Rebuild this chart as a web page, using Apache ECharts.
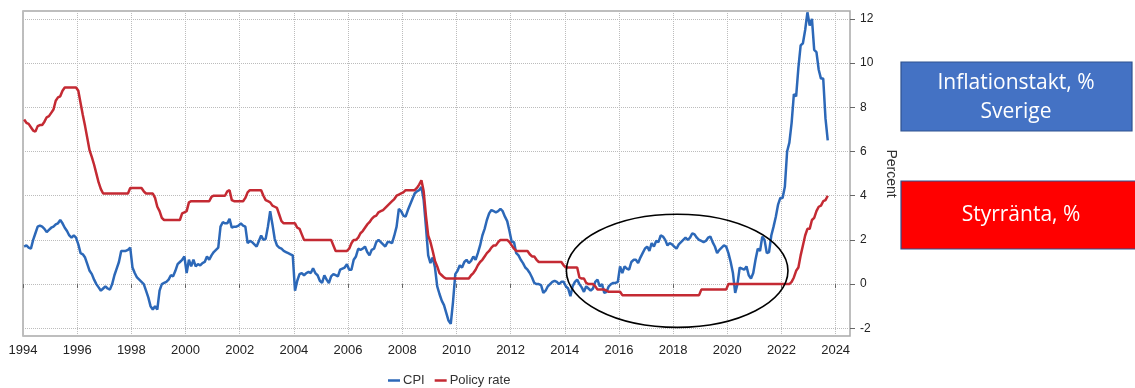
<!DOCTYPE html>
<html><head><meta charset="utf-8">
<script src="https://cdn.jsdelivr.net/npm/echarts@6/dist/echarts.min.js"></script>
<style>html,body{margin:0;padding:0;background:#fff}#c{width:1135px;height:388px}</style>
</head><body><div id="c"></div>
<script>
// ---- data (monthly, starting January 1994) ----
const startYear = 1994;
const seriesNames = ['CPI', 'Policy rate'];
const xTicks = [1994,1996,1998,2000,2002,2004,2006,2008,2010,2012,2014,2016,2018,2020,2022,2024];
const yTicks = [-2,0,2,4,6,8,10,12];

const cpi1994to2003 = [
  1.7,1.75,1.65,1.6,2.0,2.3,2.6,2.65,2.6,2.5,2.35,2.45,
  2.55,2.6,2.7,2.75,2.9,2.75,2.55,2.4,2.2,2.1,2.2,2.1,
  1.8,1.4,1.35,1.2,0.9,0.6,0.45,0.2,0.0,-0.15,-0.3,-0.2,
  -0.1,-0.2,-0.25,0.0,0.4,0.7,1.0,1.5,1.5,1.5,1.55,1.65,
  0.75,0.5,0.3,0.2,0.1,0.0,-0.3,-0.6,-1.0,-1.15,-1.0,-1.15,
  -0.3,0.0,0.05,0.1,0.2,0.4,0.35,0.6,0.9,1.0,1.1,1.25,
  0.5,1.1,0.8,1.1,0.8,0.9,0.85,0.95,1.0,1.25,1.1,1.3,
  1.45,1.55,1.65,2.6,2.8,2.75,2.75,2.95,2.55,2.6,2.6,2.65,
  2.75,2.65,2.6,1.85,1.95,1.9,1.8,1.7,1.95,2.2,2.0,2.05,
  2.6,3.3,2.7,2.05,1.75,1.65,1.6,1.5,1.45,1.4,1.35,1.3
];
const cpi2004to2013 = [
  -0.3,0.15,0.45,0.5,0.4,0.5,0.55,0.5,0.72,0.5,0.4,0.15,
  0.05,0.4,0.2,0.05,0.35,0.45,0.4,0.35,0.65,0.7,0.75,0.9,
  0.65,0.65,1.1,1.25,1.6,1.55,1.6,1.7,1.45,1.3,1.55,1.6,
  1.9,2.0,1.9,1.8,1.7,1.9,1.9,1.85,2.2,2.6,3.4,3.3,
  3.1,3.05,3.35,3.6,3.85,4.1,4.2,4.25,4.4,3.8,2.6,1.3,
  0.95,1.2,0.75,-0.1,-0.45,-0.75,-0.95,-1.3,-1.65,-1.8,-0.8,0.45,
  0.6,0.85,0.75,1.0,1.1,0.95,1.05,1.25,1.1,1.4,1.75,2.2,
  2.5,2.9,3.2,3.35,3.3,3.25,3.3,3.4,3.3,3.05,2.85,2.4,
  1.9,1.9,1.4,1.3,1.1,0.95,0.75,0.65,0.5,0.3,0.05,0.0,
  0.0,-0.05,-0.4,-0.3,-0.1,0.0,0.1,0.15,0.1,0.0,0.1,0.1
];
const cpi2014to2023 = [
  -0.1,-0.2,-0.55,-0.1,0.1,0.2,0.0,-0.15,-0.35,-0.1,-0.2,-0.3,
  -0.2,0.1,0.2,-0.1,0.0,-0.4,-0.35,-0.1,0.0,0.05,0.05,0.1,
  0.8,0.5,0.8,0.7,0.65,1.0,1.1,1.1,0.95,1.2,1.4,1.6,
  1.7,1.5,1.85,1.7,1.95,1.9,2.2,2.15,2.0,1.75,1.85,1.8,
  1.7,1.6,1.8,1.9,2.0,2.1,2.0,2.1,2.3,2.25,2.1,2.0,
  1.95,1.9,1.95,2.1,2.15,1.9,1.7,1.4,1.55,1.65,1.75,1.7,
  1.4,1.0,0.5,-0.4,0.0,0.75,0.7,0.65,0.8,0.4,0.25,0.5,
  1.1,1.6,1.5,2.15,2.0,1.4,1.45,2.2,2.6,3.05,3.6,3.9,
  3.9,4.4,6.0,6.4,7.3,8.6,8.5,9.8,10.8,10.9,11.5,12.3,
  11.7,12.0,10.6,10.5,9.7,9.3,9.3,7.5,6.5
];

const rate1994to2003 = [
  7.45,7.3,7.25,7.1,6.95,6.9,7.15,7.2,7.2,7.35,7.55,7.6,
  7.75,7.9,8.3,8.45,8.5,8.75,8.9,8.9,8.9,8.9,8.9,8.9,
  8.75,8.2,7.65,7.15,6.6,6.05,5.75,5.4,5.0,4.6,4.3,4.1,
  4.1,4.1,4.1,4.1,4.1,4.1,4.1,4.1,4.1,4.1,4.1,4.35,
  4.35,4.35,4.35,4.35,4.35,4.2,4.1,4.1,4.1,4.1,3.9,3.5,
  3.3,3.0,2.9,2.9,2.9,2.9,2.9,2.9,2.9,2.9,3.2,3.25,
  3.3,3.7,3.75,3.75,3.75,3.75,3.75,3.75,3.75,3.75,3.75,3.95,
  4.0,4.0,4.0,4.0,4.0,4.0,4.2,4.25,3.8,3.75,3.75,3.75,
  3.75,3.75,3.9,4.15,4.25,4.25,4.25,4.25,4.25,4.25,4.0,3.8,
  3.75,3.7,3.55,3.5,3.45,3.15,2.85,2.75,2.75,2.75,2.75,2.75
];
const rate2004to2013 = [
  2.75,2.55,2.5,2.25,2.0,2.0,2.0,2.0,2.0,2.0,2.0,2.0,
  2.0,2.0,2.0,2.0,2.0,1.75,1.5,1.5,1.5,1.5,1.5,1.5,
  1.6,1.85,2.0,2.0,2.1,2.3,2.4,2.55,2.7,2.8,2.95,3.05,
  3.1,3.25,3.3,3.35,3.45,3.55,3.65,3.75,3.85,4.0,4.05,4.1,
  4.15,4.25,4.25,4.25,4.25,4.25,4.35,4.5,4.7,4.2,3.1,2.2,
  1.9,1.5,1.05,0.8,0.5,0.4,0.3,0.25,0.25,0.25,0.25,0.25,
  0.25,0.25,0.25,0.25,0.25,0.25,0.4,0.5,0.65,0.85,1.0,1.1,
  1.25,1.4,1.5,1.65,1.75,1.75,1.9,2.0,2.0,2.0,2.0,1.9,
  1.75,1.6,1.5,1.5,1.5,1.5,1.5,1.5,1.35,1.25,1.25,1.1,
  1.0,1.0,1.0,1.0,1.0,1.0,1.0,1.0,1.0,1.0,1.0,0.85
];
const rate2014to2023 = [
  0.75,0.75,0.75,0.75,0.75,0.75,0.3,0.25,0.25,0.05,0.0,0.0,
  0.0,-0.1,-0.25,-0.25,-0.25,-0.25,-0.3,-0.35,-0.35,-0.35,-0.35,-0.35,
  -0.35,-0.5,-0.5,-0.5,-0.5,-0.5,-0.5,-0.5,-0.5,-0.5,-0.5,-0.5,
  -0.5,-0.5,-0.5,-0.5,-0.5,-0.5,-0.5,-0.5,-0.5,-0.5,-0.5,-0.5,
  -0.5,-0.5,-0.5,-0.5,-0.5,-0.5,-0.5,-0.5,-0.5,-0.5,-0.5,-0.5,
  -0.25,-0.25,-0.25,-0.25,-0.25,-0.25,-0.25,-0.25,-0.25,-0.25,-0.25,-0.25,
  0,0,0,0,0,0,0,0,0,0,0,0,
  0,0,0,0,0,0,0,0,0,0,0,0,
  0,0,0,0,0.1,0.3,0.6,0.75,1.3,1.75,2.2,2.5,
  2.5,2.9,3.0,3.3,3.5,3.55,3.75,3.8,4.0
];

// annotation ellipse bounds, in data units (years / percent)
const ellipseYears = [2014.06, 2022.24];
const ellipseValues = [-1.96, 3.16];

const cpiValues = cpi1994to2003.concat(cpi2004to2013, cpi2014to2023);
const rateValues = rate1994to2003.concat(rate2004to2013, rate2014to2023);
const toPoints = vals => vals.map((v, i) => [startYear + (i + 0.5) / 12, v]);

const chart = echarts.init(document.getElementById('c'), null, {renderer: 'canvas'});
const axisFont = 'Liberation Sans, Arial, sans-serif';
chart.setOption({
  animation: false,
  backgroundColor: '#fff',
  grid: {left: 23, right: 285, top: 11, bottom: 52, show: true,
         borderColor: '#a9a9a9', borderWidth: 1.5, backgroundColor: 'transparent'},
  legend: {
    data: seriesNames, left: 388, top: 374, padding: 0,
    icon: 'rect', itemWidth: 12, itemHeight: 2.5, itemGap: 10,
    textStyle: {fontFamily: axisFont, fontSize: 13, color: '#333', padding: [0,0,0,-2]}
  },
  xAxis: {
    type: 'value', min: 1994, max: 2024.53, minInterval: 2, maxInterval: 2,
    axisLine: {show: false},
    axisTick: {show: true, length: 4, lineStyle: {color: '#666'}, customValues: xTicks},
    axisLabel: {fontFamily: axisFont, fontSize: 13, color: '#222', margin: 8,
                customValues: xTicks,
                formatter: v => (Math.abs(v - Math.round(v)) < 1e-6) ? String(Math.round(v)) : ''},
    splitLine: {show: true, lineStyle: {color: '#bcbcbc', type: 'dotted', width: 1}}
  },
  yAxis: {
    type: 'value', position: 'right', min: -2.35, max: 12.36, minInterval: 2, maxInterval: 2,
    name: 'Percent', nameLocation: 'middle', nameRotate: -90, nameGap: 16,
    nameTextStyle: {fontFamily: axisFont, fontSize: 14, color: '#333'},
    axisLine: {show: false},
    axisTick: {show: true, length: 5, lineStyle: {color: '#666'}, customValues: yTicks},
    axisLabel: {fontFamily: axisFont, fontSize: 12, color: '#222', margin: 10,
                customValues: yTicks,
                formatter: v => (Math.abs(v - Math.round(v)) < 1e-6) ? String(Math.round(v)) : ''},
    splitLine: {show: true, lineStyle: {color: '#bcbcbc', type: 'dotted', width: 1}}
  },
  series: [
    {name: seriesNames[0], type: 'line', data: toPoints(cpiValues), showSymbol: false,
     color: '#2c68b8', lineStyle: {width: 2.5, color: '#2c68b8'}},
    {name: seriesNames[1], type: 'line', data: toPoints(rateValues), showSymbol: false,
     color: '#c42a33', lineStyle: {width: 2.5, color: '#c42a33'}}
  ]
});

// annotation: ellipse placed through the chart's own scales
const p1 = chart.convertToPixel({xAxisIndex: 0, yAxisIndex: 0}, [ellipseYears[0], ellipseValues[0]]);
const p2 = chart.convertToPixel({xAxisIndex: 0, yAxisIndex: 0}, [ellipseYears[1], ellipseValues[1]]);
const boxFont = '21px "Open Sans", "Noto Sans", sans-serif';
chart.setOption({
  graphic: [
    {type: 'ellipse', z: 100, silent: true,
     shape: {cx: (p1[0] + p2[0]) / 2, cy: (p1[1] + p2[1]) / 2,
             rx: Math.abs(p2[0] - p1[0]) / 2, ry: Math.abs(p2[1] - p1[1]) / 2},
     style: {fill: 'none', stroke: '#000', lineWidth: 1.6}},
    {type: 'rect', z: 100, shape: {x: 901, y: 62, width: 231, height: 69},
     style: {fill: '#4472c4', stroke: '#2f528f', lineWidth: 1.2}},
    {type: 'text', z: 101, x: 1016, y: 83,
     style: {text: 'Inflationstakt, %', fill: '#fff', font: boxFont, textAlign: 'center', textVerticalAlign: 'middle'}},
    {type: 'text', z: 101, x: 1016, y: 112,
     style: {text: 'Sverige', fill: '#fff', font: boxFont, textAlign: 'center', textVerticalAlign: 'middle'}},
    {type: 'rect', z: 100, shape: {x: 901, y: 181, width: 240, height: 68},
     style: {fill: '#ff0000', stroke: '#2f528f', lineWidth: 1.2}},
    {type: 'text', z: 101, x: 1021, y: 215,
     style: {text: 'Styrränta, %', fill: '#fff', font: boxFont, textAlign: 'center', textVerticalAlign: 'middle'}}
  ]
});
</script>
</body></html>
